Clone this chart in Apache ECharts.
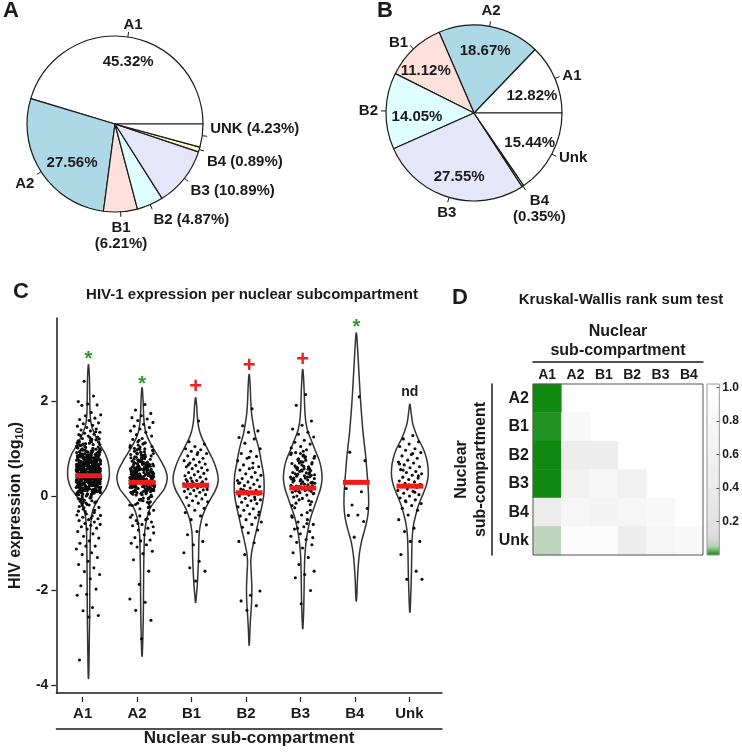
<!DOCTYPE html>
<html>
<head>
<meta charset="utf-8">
<script src="https://cdn.jsdelivr.net/npm/echarts@6.0.0/dist/echarts.min.js"></script>
<style>
html,body{margin:0;padding:0;background:#fff}
#main{width:742px;height:752px}
</style>
</head>
<body>
<div id="main"></div>
<script>
var FONT = 'Liberation Sans, Arial, sans-serif';

// ---- panels A and B: share of integration sites per sub-compartment
var pieNamesA = ['A1', 'A2', 'B1', 'B2', 'B3', 'B4', 'UNK'];
var pieValsA = [45.32, 27.56, 6.21, 4.87, 10.89, 0.89, 4.23];
var pieNamesB = ['A1', 'A2', 'B1', 'B2', 'B3', 'B4', 'Unk'];
var pieValsB = [12.82, 18.67, 11.12, 14.05, 27.55, 0.35, 15.44];
var pieColors = ['#ffffff', '#add8e6', '#ffe1dc', '#e0ffff', '#e6e6fa', '#fff5c8', '#ffffff'];

// ---- panel C: HIV-1 expression (log10) per sub-compartment
var groups = ['A1', 'A2', 'B1', 'B2', 'B3', 'B4', 'Unk'];

var ptsA1 = [
  0.43,0.51,0.38,0.62,0.27,0.75,0.12,0.88,0.46,0.33,0.57,0.69,0.21,0.94,0.05,0.41,0.64,0.29,0.8,0.49,
  0.36,0.58,0.17,0.72,0.44,1.02,0.25,0.61,0.39,0.83,-0.08,0.53,0.31,0.67,0.47,0.14,0.91,0.35,0.56,0.22,
  0.77,0.4,0.63,0.09,0.5,0.86,0.28,0.45,1.1,0.32,0.59,0.19,0.71,0.42,0.97,0.02,0.54,0.37,0.66,0.24,
  0.81,0.48,0.11,0.6,0.34,0.74,-0.15,0.52,0.3,0.89,0.43,0.16,0.68,0.41,1.05,0.26,0.57,0.07,0.78,0.46,
  0.2,0.63,0.37,0.93,0.5,0.13,0.7,0.33,0.55,1.15,-0.02,0.44,0.84,0.27,0.61,0.39,0.18,0.76,0.48,0.99,
  0.31,0.58,0.1,0.65,0.42,0.87,-0.22,0.53,0.23,0.73,0.36,1.08,0.47,0.04,0.62,0.29,0.8,0.45,0.15,0.69,
  0.52,0.35,0.92,-0.1,0.59,0.25,0.79,0.43,0.06,0.66,0.38,1.18,0.49,0.21,0.74,0.32,0.56,-0.28,0.85,0.41,
  0.6,0.14,0.71,0.37,0.96,0.51,0.24,0.64,-0.05,0.45,0.82,0.3,0.55,0.12,0.77,0.4,1.03,0.28,0.67,0.48,
  0.19,0.58,0.35,0.9,0.08,0.63,0.44,0.75,-0.18,0.52,0.26,0.83,0.39,1.12,0.47,0.16,0.7,0.34,0.6,0.01,
  0.87,0.42,0.23,0.65,0.5,1.0,0.31,0.57,-0.12,0.73,0.37,0.13,0.8,0.46,0.27,0.94,0.54,0.2,0.68,0.4,
  0.11,0.62,0.33,0.78,0.49,-0.25,0.58,0.22,1.07,0.44,0.69,0.03,0.36,0.86,0.53,0.17,0.72,0.41,0.29,0.98,
  0.47,-0.07,0.61,0.34,0.81,0.25,0.56,1.14,0.39,0.09,0.66,0.45,0.18,0.92,0.51,0.3,0.76,-0.32,0.6,0.43,
  0.15,0.71,0.38,0.84,0.52,0.06,0.64,0.28,1.04,0.47,0.21,0.79,0.35,0.58,-0.03,0.88,0.42,0.12,0.67,0.5,
  0.26,0.95,0.4,0.63,0.1,0.74,0.33,0.55,-0.2,0.46,0.82,0.19,0.69,0.37,1.09,0.53,0.24,0.6,0.44,0.85,
  0.07,0.57,0.32,0.77,0.48,-0.14,0.65,0.41,0.9,0.23,0.59,0.36,1.17,0.14,0.72,0.45,0.28,0.83,0.52,0.0,
  0.62,0.39,0.97,0.2,0.68,0.43,-0.35,0.54,0.31,0.8,0.49,0.11,0.73,0.37,1.01,0.26,0.61,0.46,0.17,0.88,
  0.34,0.56,0.04,0.7,0.42,0.93,0.27,0.64,-0.09,0.5,0.78,0.22,0.59,0.38,1.13,0.47,0.13,0.66,0.3,0.84,
  0.45,0.72,0.18,0.58,0.33,0.91,0.05,0.64,0.41,0.27,0.79,0.52,-0.11,0.68,0.36,1.06,0.22,0.55,0.47,0.83,
  0.29,0.61,0.14,0.76,0.44,0.98,0.38,0.02,0.57,0.25,0.7,0.49,-0.19,0.63,0.32,1.11,0.19,0.86,0.42,0.53,
  0.66,0.1,0.48,0.81,0.35,-0.04,0.59,0.23,0.95,0.43,0.74,0.16,0.54,0.3,1.16,0.39,0.69,0.08,0.89,0.5,
  0.37,0.77,0.21,0.6,0.46,-0.24,0.85,0.28,0.65,0.12,0.53,0.4,1.0,0.34,0.72,0.03,0.58,0.47,0.93,0.26,
  0.56,0.15,0.82,0.4,0.68,-0.13,0.5,0.31,1.08,0.44,0.2,0.75,0.36,0.62,0.09,0.87,0.48,0.24,0.71,0.42,
  0.32,0.9,0.52,0.17,0.63,0.44,-0.06,0.78,0.39,1.14,0.27,0.57,0.13,0.81,0.46,0.35,0.67,0.04,0.96,0.55,
  0.6,0.22,0.74,0.43,1.03,0.3,0.51,-0.17,0.66,0.38,0.86,0.11,0.55,0.47,0.79,0.25,1.19,0.41,0.07,0.7,
  0.48,0.84,0.19,0.62,0.35,0.97,0.53,-0.01,0.73,0.29,0.58,0.45,1.09,0.16,0.67,0.39,0.89,0.24,0.52,0.76,
  1.2,1.22,1.25,1.27,1.3,1.31,1.33,1.35,1.38,1.4,1.42,1.45,1.48,1.5,1.53,1.55,1.6,1.62,1.65,1.7,
  1.72,1.77,1.92,1.93,1.95,2.0,2.12,2.43,1.21,1.24,1.28,1.36,
  -0.38,-0.4,-0.42,-0.45,-0.48,-0.5,-0.52,-0.55,-0.58,-0.6,-0.62,-0.65,-0.68,-0.7,-0.75,-0.8,-0.85,-0.89,-0.95,-1.0,
  -1.06,-1.06,-1.12,-1.2,-1.24,-1.3,-1.38,-1.45,-1.52,-1.6,-1.66,-1.75,-1.9,-1.97,-2.08,-2.1,-2.36,-2.43,-2.53,-2.56,
  -3.47,-0.3,-0.33,-0.41,-0.47
];
var ptsA2 = [
  1.94,1.82,1.75,1.7,1.66,1.63,1.6,1.56,1.52,1.48,1.45,1.42,1.38,1.35,1.3,1.27,1.22,1.2,
  0.29,0.45,0.12,0.61,0.35,0.78,0.05,0.52,0.22,0.9,0.38,-0.1,0.67,0.31,0.47,0.18,0.84,0.26,0.57,0.41,
  -0.2,0.72,0.33,0.15,0.55,0.95,0.27,0.43,0.08,0.64,0.36,1.05,0.2,0.5,-0.05,0.76,0.3,0.59,0.13,0.42,
  0.87,0.24,0.53,-0.15,0.68,0.37,0.1,0.47,0.99,0.28,0.62,0.02,0.4,0.81,0.19,0.56,0.34,-0.3,0.7,0.44,
  0.16,0.93,0.31,0.58,0.07,0.49,1.1,0.25,0.66,-0.08,0.39,0.83,0.21,0.54,0.32,0.74,0.11,1.15,0.46,0.27,
  0.6,-0.22,0.36,0.88,0.14,0.51,0.29,0.69,0.04,0.43,1.0,0.23,0.79,0.35,-0.12,0.57,0.18,0.65,0.4,0.97,
  0.3,0.52,-0.35,0.73,0.26,0.45,0.09,0.85,0.37,0.62,0.17,1.08,0.48,0.22,0.7,-0.02,0.39,0.55,0.33,0.91,
  0.12,0.67,0.28,0.48,1.18,0.2,0.6,-0.18,0.42,0.77,0.06,0.53,0.34,0.96,0.25,0.71,0.44,-0.27,0.58,0.15,
  0.82,0.37,0.03,0.5,0.27,0.75,0.41,1.12,0.19,0.63,-0.07,0.46,0.31,0.89,0.24,0.56,0.1,0.68,0.38,1.03,
  0.35,0.58,0.14,0.8,0.42,-0.13,0.66,0.27,0.5,1.01,0.2,0.74,0.39,0.05,0.61,0.31,0.86,0.47,-0.24,0.55,
  0.23,0.7,0.44,0.09,0.92,0.36,0.62,0.17,0.51,-0.04,0.78,0.29,0.46,1.07,0.13,0.57,0.33,0.84,0.4,0.26,
  0.41,0.64,0.19,0.83,0.3,-0.09,0.55,0.36,0.98,0.12,0.71,0.47,0.26,0.6,-0.19,0.88,0.34,0.52,0.07,0.45,
  0.28,0.76,0.43,0.1,0.59,0.32,1.04,0.21,0.67,0.49,-0.01,0.8,0.38,0.15,0.63,0.25,0.94,0.54,0.18,0.4,
  0.5,0.13,0.69,0.37,0.86,0.24,-0.16,0.57,0.33,1.13,0.45,0.02,0.73,0.29,0.61,0.16,0.9,0.42,0.22,0.66,
  0.35,0.81,0.08,0.53,0.27,0.72,0.44,-0.06,0.6,0.19,1.0,0.39,0.14,0.77,0.31,0.48,0.58,0.23,0.85,0.32,
  -0.38,-0.42,-0.45,-0.5,-0.52,-0.55,-0.6,-0.63,-0.68,-0.72,-0.78,-0.82,-0.88,-0.93,-0.95,-1.0,
  -1.03,-1.08,-1.17,-1.22,-1.35,-1.59,-1.87,-2.18,-2.25,-2.42,-2.63,-3.02,-0.4,-0.48,-0.58,-0.65
];
var ptsB1 = [
  1.59,1.15,1.1,1.05,1.0,0.98,0.95,0.9,0.88,0.85,0.8,0.78,0.75,0.72,0.7,0.68,0.65,0.62,0.6,0.58,
  0.55,0.52,0.5,0.48,0.45,0.43,0.4,0.38,0.36,0.33,0.31,0.3,0.28,0.26,0.25,0.24,0.23,0.22,0.21,0.2,
  0.19,0.18,0.17,0.15,0.13,0.12,0.1,0.08,0.05,0.03,0.0,-0.03,-0.06,-0.1,-0.12,-0.15,-0.2,-0.26,-0.3,-0.35,
  -0.42,-0.5,-0.61,-0.75,-0.82,-0.96,-1.03,-1.2,-1.38,-1.52,-1.59,-1.8,0.35,0.27,0.32,0.14,0.92,0.66
];
var ptsB2 = [
  1.85,1.49,1.38,1.35,1.24,1.21,1.12,1.0,0.95,0.9,0.84,0.8,0.75,0.7,0.66,0.62,0.58,0.55,0.5,0.47,
  0.44,0.4,0.37,0.34,0.3,0.27,0.25,0.22,0.2,0.17,0.15,0.12,0.1,0.08,0.07,0.05,0.04,0.02,0.0,-0.02,
  -0.05,-0.08,-0.1,-0.13,-0.16,-0.2,-0.23,-0.27,-0.3,-0.34,-0.38,-0.42,-0.46,-0.5,-0.55,-0.6,-0.66,-0.72,-0.78,-0.96,
  -0.99,-1.24,-2.01,-2.1,-2.22,-2.32,-2.42,0.33,0.6,0.13,-0.4,0.82,0.28,-0.07
];
var ptsB3 = [
  2.15,1.92,1.59,1.5,1.42,1.35,1.31,1.25,1.18,1.14,1.1,1.05,1.02,
  0.98,0.6,0.22,0.85,0.35,-0.1,0.7,0.45,0.12,0.92,0.28,0.55,-0.2,0.4,0.78,0.05,0.63,0.18,0.5,0.32,
  0.88,0.15,0.42,0.68,-0.05,0.3,0.57,0.1,0.8,0.25,0.47,-0.3,0.73,0.36,0.02,0.6,0.2,0.95,0.38,0.13,
  0.52,0.27,0.83,-0.15,0.44,0.66,0.08,0.34,0.75,0.19,0.58,-0.25,0.41,0.9,0.23,0.49,0.0,0.71,0.3,0.16,
  0.62,-0.08,0.37,0.81,0.11,0.54,0.26,0.69,-0.35,0.46,0.17,0.87,0.33,0.59,0.07,0.4,0.76,0.21,-0.12,0.53,
  0.5,0.24,0.79,0.06,0.43,0.64,-0.18,0.35,0.91,0.14,0.56,0.29,0.72,-0.02,0.47,0.2,0.84,0.38,0.61,0.1,
  -0.4,-0.45,-0.5,-0.55,-0.6,-0.65,-0.7,-0.75,-0.8,-0.85,-0.92,-0.98,-1.03,-1.1,-1.2,-1.3,-1.45,-1.59,-1.66,-1.73,
  -2.0,-2.28,-0.42,-0.58,-0.68,-0.88
];
var ptsB4 = [2.1, 0.93, 0.75, 0.3, 0.16, 0.09, -0.19, -0.26, -0.4, -0.41, -0.54, -0.87];
var ptsUnk = [
  1.28,1.21,1.15,1.1,1.05,1.0,0.97,0.92,0.88,0.85,0.8,0.76,0.72,0.7,0.66,0.62,0.6,0.56,0.52,0.5,
  0.47,0.44,0.4,0.38,0.35,0.32,0.3,0.27,0.25,0.22,0.2,0.18,0.15,0.12,0.1,0.06,0.03,0.0,-0.04,-0.08,
  -0.12,-0.16,-0.2,-0.26,-0.3,-0.4,-0.5,-0.68,-0.75,-0.96,-0.96,-1.24,-1.59,-1.76,-1.76,0.9,0.55,0.43,0.24,0.68,
  0.08,-0.1
];
var groupPoints = [ptsA1, ptsA2, ptsB1, ptsB2, ptsB3, ptsB4, ptsUnk];

// violin outlines: [log10 expression, half width in category units]
var violinA1 = [[2.78,0.004],[2.5,0.018],[2.2,0.022],[1.9,0.026],[1.7,0.032],[1.5,0.055],[1.35,0.1],[1.2,0.16],[1.05,0.23],[0.9,0.31],[0.7,0.37],[0.5,0.39],[0.35,0.38],[0.15,0.32],[0.0,0.22],[-0.15,0.14],[-0.3,0.08],[-0.5,0.05],[-0.8,0.035],[-1.2,0.03],[-1.8,0.025],[-2.5,0.022],[-3.0,0.016],[-3.5,0.01],[-3.86,0.003]];
var violinA2 = [[2.29,0.004],[2.0,0.02],[1.7,0.03],[1.5,0.045],[1.35,0.07],[1.2,0.12],[1.07,0.18],[0.9,0.27],[0.75,0.35],[0.55,0.44],[0.37,0.47],[0.16,0.42],[-0.05,0.28],[-0.26,0.15],[-0.47,0.09],[-0.75,0.05],[-1.1,0.038],[-1.6,0.03],[-2.4,0.025],[-3.0,0.015],[-3.39,0.003]];
var violinB1 = [[2.08,0.004],[1.9,0.02],[1.7,0.03],[1.5,0.05],[1.35,0.08],[1.2,0.13],[1.0,0.22],[0.8,0.31],[0.6,0.38],[0.4,0.42],[0.25,0.41],[0.1,0.36],[-0.1,0.26],[-0.3,0.17],[-0.5,0.11],[-0.75,0.07],[-1.0,0.06],[-1.3,0.055],[-1.6,0.045],[-1.9,0.03],[-2.1,0.015],[-2.25,0.003]];
var violinB2 = [[2.57,0.004],[2.3,0.02],[2.0,0.03],[1.75,0.045],[1.55,0.07],[1.3,0.11],[1.1,0.16],[0.9,0.2],[0.7,0.23],[0.45,0.27],[0.2,0.28],[0.0,0.27],[-0.25,0.23],[-0.5,0.18],[-0.75,0.13],[-1.0,0.08],[-1.2,0.045],[-1.4,0.03],[-1.65,0.04],[-1.95,0.05],[-2.25,0.045],[-2.6,0.025],[-2.9,0.012],[-3.16,0.003]];
var violinB3 = [[2.68,0.004],[2.4,0.02],[2.1,0.03],[1.8,0.04],[1.55,0.06],[1.35,0.1],[1.15,0.17],[0.95,0.24],[0.75,0.31],[0.55,0.35],[0.35,0.36],[0.15,0.33],[-0.05,0.27],[-0.25,0.21],[-0.45,0.15],[-0.7,0.1],[-0.95,0.065],[-1.25,0.04],[-1.6,0.03],[-2.0,0.025],[-2.4,0.018],[-2.81,0.003]];
var violinB4 = [[3.45,0.004],[3.2,0.02],[2.9,0.035],[2.5,0.055],[2.1,0.075],[1.7,0.1],[1.3,0.13],[0.9,0.17],[0.5,0.2],[0.1,0.225],[-0.2,0.23],[-0.45,0.21],[-0.7,0.16],[-0.95,0.1],[-1.2,0.06],[-1.5,0.035],[-1.8,0.02],[-2.05,0.012],[-2.22,0.003]];
var violinUnk = [[1.94,0.004],[1.75,0.025],[1.55,0.05],[1.4,0.09],[1.2,0.16],[1.0,0.25],[0.8,0.31],[0.6,0.34],[0.4,0.34],[0.2,0.3],[0.0,0.23],[-0.2,0.16],[-0.4,0.11],[-0.6,0.07],[-0.85,0.045],[-1.2,0.035],[-1.6,0.03],[-2.0,0.02],[-2.3,0.01],[-2.46,0.003]];
var violins = [violinA1, violinA2, violinB1, violinB2, violinB3, violinB4, violinUnk];

var medians = [0.43, 0.29, 0.23, 0.07, 0.17, 0.29, 0.21];
var sigMarks = ['*', '*', '+', '+', '+', '*', 'nd'];
var sigY = [2.99, 2.47, 2.34, 2.78, 2.9, 3.67, 2.19];
var yTicks = [-4, -2, 0, 2];

// ---- panel D: Kruskal-Wallis p values (lower triangle)
var rowNames = ['A2', 'B1', 'B2', 'B3', 'B4', 'Unk'];
var colNames = ['A1', 'A2', 'B1', 'B2', 'B3', 'B4'];
var pvals = [
  [0.0, null, null, null, null, null],
  [0.006, 0.82, null, null, null, null],
  [0.0, 0.45, 0.45, null, null, null],
  [0.0, 0.58, 0.77, 0.58, null, null],
  [0.42, 0.74, 0.68, 0.77, 0.84, null],
  [0.065, 0.92, 0.92, 0.47, 0.74, 0.84]
];
var barTicks = [0.2, 0.4, 0.6, 0.8, 1.0];
var heatColors = ['#0f8a0f', '#b0d4b0', '#dadada', '#dfdfdf', '#e2e2e2', '#e5e5e5', '#e7e7e7',
  '#e9e9e9', '#ebebeb', '#ededed', '#eeeeee', '#f0f0f0', '#f1f1f1', '#f3f3f3', '#f4f4f4',
  '#f6f6f6', '#f7f7f7', '#f9f9f9', '#fbfbfb', '#fdfdfd', '#ffffff'];

// ------------------------------------------------------------------
var JITTER = 0.23;
var pointData = [];
groupPoints.forEach(function (vals, gi) {
  vals.forEach(function (v, k) {
    var f = ((k + 1) * 0.6180339887) % 1;
    pointData.push([gi + (f - 0.5) * 2 * JITTER, v]);
  });
});

var heatData = [];
pvals.forEach(function (row, r) {
  row.forEach(function (p, c) {
    if (p !== null) heatData.push([c, r, p]);
  });
});

var BAR_MAX = 1.02;
var barStops = heatColors.map(function (c, i) {
  return { offset: (i / (heatColors.length - 1)) / BAR_MAX, color: c };
});
barStops.push({ offset: 1, color: '#ffffff' });

function pieLabelLayout(nudges) {
  return function (p) {
    var pts = p.labelLinePoints;
    if (!pts) return {};
    var a = pts[0], e = pts[pts.length - 1];
    var dx = e[0] - a[0], dy = e[1] - a[1];
    var len = Math.sqrt(dx * dx + dy * dy) || 1;
    dx /= len; dy /= len;
    var nd = nudges[p.dataIndex] || [0, 0];
    return {
      x: e[0] + dx * 3 + nd[0],
      y: e[1] + dy * 3 + nd[1],
      align: nd[2] || (dx > 0.35 ? 'left' : dx < -0.35 ? 'right' : 'center'),
      verticalAlign: dy > 0.5 ? 'top' : dy < -0.8 ? 'bottom' : 'middle',
      labelLinePoints: pts
    };
  };
}

function pies(names, vals, center, inside, stacked, nudges, innerNudges) {
  var outer = names.map(function (n, i) {
    var pct = '(' + vals[i].toFixed(2) + '%)';
    var txt = inside.indexOf(n) >= 0 ? n : (stacked.indexOf(n) >= 0 ? n + '\n' + pct : n + ' ' + pct);
    return { name: n, value: vals[i], itemStyle: { color: pieColors[i] }, label: { formatter: txt } };
  });
  var inner = names.map(function (n, i) {
    return {
      name: n, value: vals[i],
      label: { show: inside.indexOf(n) >= 0, formatter: vals[i].toFixed(2) + '%' }
    };
  });
  return [{
    type: 'pie', center: center, radius: 88, startAngle: 0, clockwise: false,
    avoidLabelOverlap: false, silent: true, data: outer,
    itemStyle: { borderColor: '#1a1a1a', borderWidth: 1.2 },
    label: { position: 'outside', fontSize: 15, fontWeight: 'bold', color: '#1a1a1a', lineHeight: 16 },
    labelLine: { show: true, length: 5, length2: 0, lineStyle: { color: '#1a1a1a', width: 1 } },
    labelLayout: pieLabelLayout(nudges),
    emphasis: { disabled: true }
  }, {
    type: 'pie', center: center, radius: 120, startAngle: 0, clockwise: false,
    avoidLabelOverlap: false, silent: true, data: inner,
    itemStyle: { color: 'rgba(0,0,0,0)', borderWidth: 0 },
    label: { position: 'inside', fontSize: 15, fontWeight: 'bold', color: '#1a1a1a' },
    labelLine: { show: false },
    labelLayout: function (p) {
      var d = innerNudges[p.dataIndex] || [0, 0];
      return { dx: d[0], dy: d[1] };
    },
    emphasis: { disabled: true }
  }];
}

var series = []
  .concat(pies(pieNamesA, pieValsA, [115, 124], ['A1', 'A2'], ['B1'],
    { 0: [4, 4], 5: [0, 10], 6: [0, -8] }, { 0: [4, 0], 1: [10, 5] }))
  .concat(pies(pieNamesB, pieValsB, [474, 113], ['A1', 'A2', 'B1', 'B2', 'B3', 'Unk'], ['B4'],
    { 5: [12, 0, 'center'] }, { 0: [0, 8], 2: [-5, 4], 3: [6, 5], 4: [3, 3] }));

series.push({
  type: 'custom', xAxisIndex: 0, yAxisIndex: 0, silent: true, z: 2,
  data: groups.map(function (g, i) { return [i, 0]; }),
  renderItem: function (params, api) {
    var gi = api.value(0);
    var prof = violins[gi];
    var right = prof.map(function (p) { return api.coord([gi + p[1], p[0]]); });
    var left = prof.slice().reverse().map(function (p) { return api.coord([gi - p[1], p[0]]); });
    return {
      type: 'polygon',
      shape: { points: right.concat(left), smooth: 0.3 },
      style: { fill: 'none', stroke: '#333', lineWidth: 1.5 }
    };
  }
});
series.push({
  type: 'scatter', xAxisIndex: 0, yAxisIndex: 0, silent: true, z: 3,
  symbolSize: 3.1, itemStyle: { color: '#0d0d0d', opacity: 1 },
  data: pointData
});
series.push({
  type: 'custom', xAxisIndex: 0, yAxisIndex: 0, silent: true, z: 4,
  data: medians.map(function (m, i) { return [i, m]; }),
  renderItem: function (params, api) {
    var gi = api.value(0), m = api.value(1);
    var a = api.coord([gi - 0.25, m]), b = api.coord([gi + 0.25, m]);
    return {
      type: 'line', shape: { x1: a[0], y1: a[1], x2: b[0], y2: b[1] },
      style: { stroke: '#f01c1c', lineWidth: 5 }
    };
  }
});
series.push({
  type: 'custom', xAxisIndex: 0, yAxisIndex: 0, silent: true, z: 4,
  data: sigY.map(function (y, i) { return [i, y]; }),
  renderItem: function (params, api) {
    var gi = api.value(0);
    var mark = sigMarks[gi];
    var p = api.coord([gi, api.value(1)]);
    var color = mark === '*' ? '#2a9a2a' : mark === '+' ? '#ee2020' : '#1a1a1a';
    var size = mark === '*' ? 20 : mark === '+' ? 22 : 14;
    var shift = mark === '*' ? 5 : mark === '+' ? 1 : 0;
    return {
      type: 'text', x: p[0], y: p[1] + shift,
      style: { text: mark, fill: color, font: 'bold ' + size + 'px ' + FONT, align: 'center', verticalAlign: 'middle' }
    };
  }
});
series.push({
  type: 'heatmap', xAxisIndex: 3, yAxisIndex: 2, silent: true,
  data: heatData, itemStyle: { borderWidth: 0 }, emphasis: { disabled: true }
});
series.push({
  type: 'custom', xAxisIndex: 5, yAxisIndex: 4, silent: true, z: 2,
  data: [[0, 0]],
  renderItem: function (params, api) {
    var cs = params.coordSys;
    return {
      type: 'rect', shape: { x: cs.x, y: cs.y, width: cs.width, height: cs.height },
      style: { fill: new echarts.graphic.LinearGradient(0, 1, 0, 0, barStops) }
    };
  }
});

function ts(size, extra) {
  var o = { fontFamily: FONT, fontWeight: 'bold', color: '#1a1a1a', fontSize: size };
  for (var k in extra) o[k] = extra[k];
  return o;
}

var option = {
  animation: false,
  backgroundColor: '#ffffff',
  textStyle: { fontFamily: FONT },
  title: [
    { text: 'A', left: 3, top: 0, padding: 0, textStyle: ts(22) },
    { text: 'B', left: 377, top: 0, padding: 0, textStyle: ts(22) },
    { text: 'C', left: 13, top: 281, padding: 0, textStyle: ts(22) },
    { text: 'D', left: 452, top: 287, padding: 0, textStyle: ts(22) }
  ],
  graphic: [
    { type: 'text', x: 252, y: 295, silent: true,
      style: { text: 'HIV-1 expression per nuclear subcompartment', font: 'bold 15px ' + FONT, fill: '#1a1a1a', align: 'center', verticalAlign: 'middle' } },
    { type: 'text', x: 621, y: 300, silent: true,
      style: { text: 'Kruskal-Wallis rank sum test', font: 'bold 15px ' + FONT, fill: '#1a1a1a', align: 'center', verticalAlign: 'middle' } }
  ],
  visualMap: {
    type: 'continuous', show: false, seriesIndex: 8, dimension: 2,
    min: 0, max: 1, inRange: { color: heatColors }
  },
  grid: [
    { left: 50, top: 318, width: 392, height: 379 },
    { left: 55.44, top: 318, width: 381.1, height: 379 },
    { left: 533, top: 384, width: 170, height: 171, show: true, z: 5,
      backgroundColor: 'rgba(0,0,0,0)', borderColor: '#555', borderWidth: 1 },
    { left: 707, top: 384, width: 15, height: 171, show: true, z: 5,
      backgroundColor: 'rgba(0,0,0,0)', borderColor: '#999', borderWidth: 1 }
  ],
  xAxis: [
    { gridIndex: 0, type: 'value', min: -0.6, max: 6.6,
      axisLine: { show: true, onZero: false, lineStyle: { color: '#1a1a1a', width: 1.5 } },
      axisTick: { show: false }, axisLabel: { show: false }, splitLine: { show: false } },
    { gridIndex: 1, type: 'category', data: groups, boundaryGap: true,
      axisLine: { show: false },
      axisTick: { show: true, alignWithLabel: true, length: 5, lineStyle: { color: '#1a1a1a', width: 1.2 } },
      axisLabel: ts(15, { margin: 9 }) },
    { gridIndex: 0, type: 'value', min: -0.6, max: 6.6, position: 'bottom', offset: 36,
      axisLine: { show: true, onZero: false, lineStyle: { color: '#1a1a1a', width: 1.5 } },
      axisTick: { show: false }, axisLabel: { show: false }, splitLine: { show: false },
      name: 'Nuclear sub-compartment', nameLocation: 'middle', nameGap: 1,
      nameTextStyle: ts(17) },
    { gridIndex: 2, type: 'category', data: colNames, position: 'top',
      axisLine: { show: false }, axisTick: { show: false },
      axisLabel: ts(14, { margin: 2 }) },
    { gridIndex: 2, type: 'category', data: colNames, position: 'top', offset: 22,
      axisLine: { show: true, lineStyle: { color: '#1a1a1a', width: 1.5 } },
      axisTick: { show: false }, axisLabel: { show: false },
      name: 'Nuclear\nsub-compartment', nameLocation: 'middle', nameGap: 2,
      nameTextStyle: ts(16, { lineHeight: 19 }) },
    { gridIndex: 3, type: 'category', data: ['c'], show: false }
  ],
  yAxis: [
    { gridIndex: 0, type: 'value', min: -4.17, max: 3.77,
      axisLine: { show: true, onZero: false, lineStyle: { color: '#1a1a1a', width: 1.5 } },
      axisTick: { show: true, length: 5, customValues: yTicks, lineStyle: { color: '#1a1a1a', width: 1.2 } },
      axisLabel: ts(14, { margin: 8, customValues: yTicks }),
      splitLine: { show: false },
      name: 'HIV expression (log{s|10})', nameLocation: 'middle', nameGap: 27,
      nameTextStyle: ts(16, { rich: { s: { fontFamily: FONT, fontWeight: 'bold', fontSize: 11, color: '#1a1a1a', padding: [7, 0, 0, 0] } } }) },
    { gridIndex: 1, type: 'value', min: 0, max: 1, show: false },
    { gridIndex: 2, type: 'category', data: rowNames, inverse: true,
      axisLine: { show: false }, axisTick: { show: false },
      axisLabel: ts(16, { margin: 4 }) },
    { gridIndex: 2, type: 'category', data: rowNames, inverse: true, position: 'left', offset: 41,
      axisLine: { show: true, lineStyle: { color: '#1a1a1a', width: 1.5 } },
      axisTick: { show: false }, axisLabel: { show: false },
      name: 'Nuclear\nsub-compartment', nameLocation: 'middle', nameGap: 2, nameRotate: 90,
      nameTextStyle: ts(16, { lineHeight: 19 }) },
    { gridIndex: 3, type: 'value', min: 0, max: BAR_MAX, position: 'right', z: 6,
      axisLine: { show: false },
      axisTick: { show: true, inside: true, length: 3, customValues: barTicks, lineStyle: { color: '#555' } },
      axisLabel: ts(12, { margin: 3, customValues: barTicks, formatter: function (v) { return v.toFixed(1); } }),
      splitLine: { show: false } }
  ],
  series: series
};

var chart = echarts.init(document.getElementById('main'));
chart.setOption(option);
</script>
</body>
</html>
